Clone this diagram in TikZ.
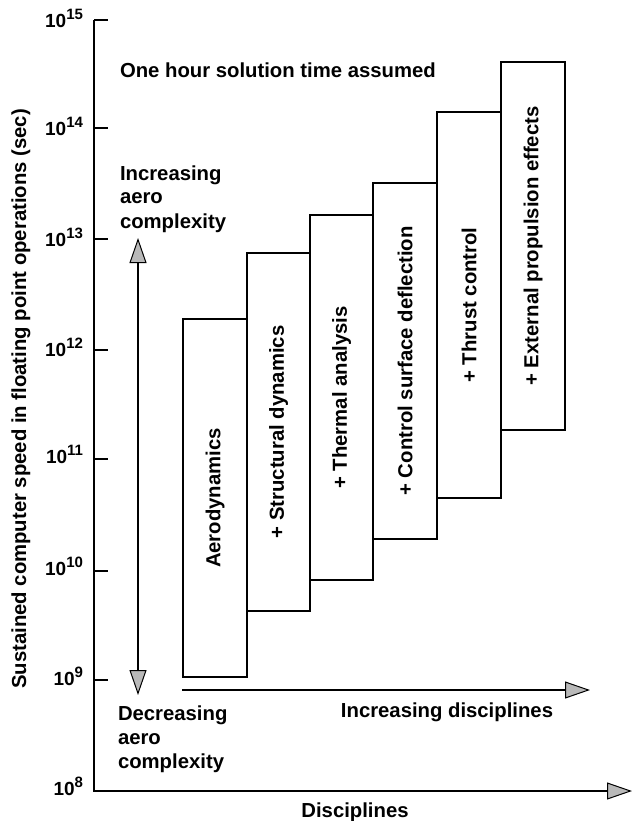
\documentclass[tikz,border=0pt]{standalone}
\usepackage{fontspec}
\setmainfont{Liberation Sans}
\usetikzlibrary{arrows.meta}
\tikzset{
  lbl/.style={font=\fontsize{20.3}{24}\selectfont\bfseries, inner sep=0pt, outer sep=0pt},
  ticklbl/.style={font=\fontsize{19}{22}\selectfont\bfseries, inner sep=0pt, outer sep=0pt},
  discbox/.style={draw, line width=2.6pt, rotate=90, inner sep=0pt, outer sep=0pt,
                  font=\fontsize{20.3}{25}\selectfont\bfseries},
  axline/.style={line width=2pt},
  arrline/.style={line width=1.6pt},
  gtip/.tip={Triangle[length=25pt,width=17pt,fill=gray!55,line width=1pt]},
}
\begin{document}
\begin{tikzpicture}[x=1pt,y=-1pt]
\useasboundingbox (0,0) rectangle (632,821);

% axes
\coordinate (ytop) at (94,20);
\coordinate (orig) at (94,791);
\coordinate (xend) at (632,791);
\draw[axline, -{gtip}] (ytop) -- (orig) -- (xend);

% ticks and labels
\foreach \y/\e/\b in {20/15/28, 128/14/136, 239/13/246, 350/12/356, 459/11/463, 571/10/575, 680/9/685, 791/8/795} {
  \draw[axline] (94,\y) -- (108,\y);
  \node[ticklbl, anchor=base east] (t\e) at (83,\b) {10\raisebox{8pt}{\fontsize{15}{18}\selectfont\e}};
}

% y-axis title
\node[lbl, rotate=90, anchor=base] (ytitle) at (26,399) {Sustained computer speed in floating point operations (sec)};

% x-axis title
\node[lbl, anchor=base] (xtitle) at (355,817) {Disciplines};

% top note
\node[lbl, anchor=base west] (note) at (120,78) {One hour solution time assumed};

% discipline boxes
\node[discbox, minimum width=358pt, minimum height=64pt] (b1) at (215,498) {Aerodynamics};
\node[discbox, minimum width=358pt, minimum height=63pt] (b2) at (278.5,432) {+ Structural dynamics};
\node[discbox, minimum width=365pt, minimum height=63pt] (b3) at (341.5,397.5) {+ Thermal analysis};
\node[discbox, minimum width=356pt, minimum height=64pt] (b4) at (405,361) {+ Control surface deflection};
\node[discbox, minimum width=386pt, minimum height=64pt] (b5) at (469,305) {+ Thrust control};
\node[discbox, minimum width=368pt, minimum height=64pt] (b6) at (533,246) {+ External propulsion effects};

% aero complexity arrow
\coordinate (vtop) at (138,238);
\coordinate (vbot) at (138,695);
\draw[arrline, {gtip}-{gtip}] (vbot) -- (vtop);
\node[lbl, anchor=base west] (incaero) at (120,180)
  {\begin{tabular}[t]{@{}l@{}}Increasing\\aero\\complexity\end{tabular}};
\node[lbl, anchor=base west] (decaero) at (118,720)
  {\begin{tabular}[t]{@{}l@{}}Decreasing\\aero\\complexity\end{tabular}};

% disciplines arrow
\coordinate (hs) at (182,690);
\coordinate (he) at (590,690);
\draw[arrline, -{gtip}] (hs) -- (he);
\node[lbl, anchor=base] (incdisc) at (447,717) {Increasing disciplines};
\end{tikzpicture}
\end{document}
